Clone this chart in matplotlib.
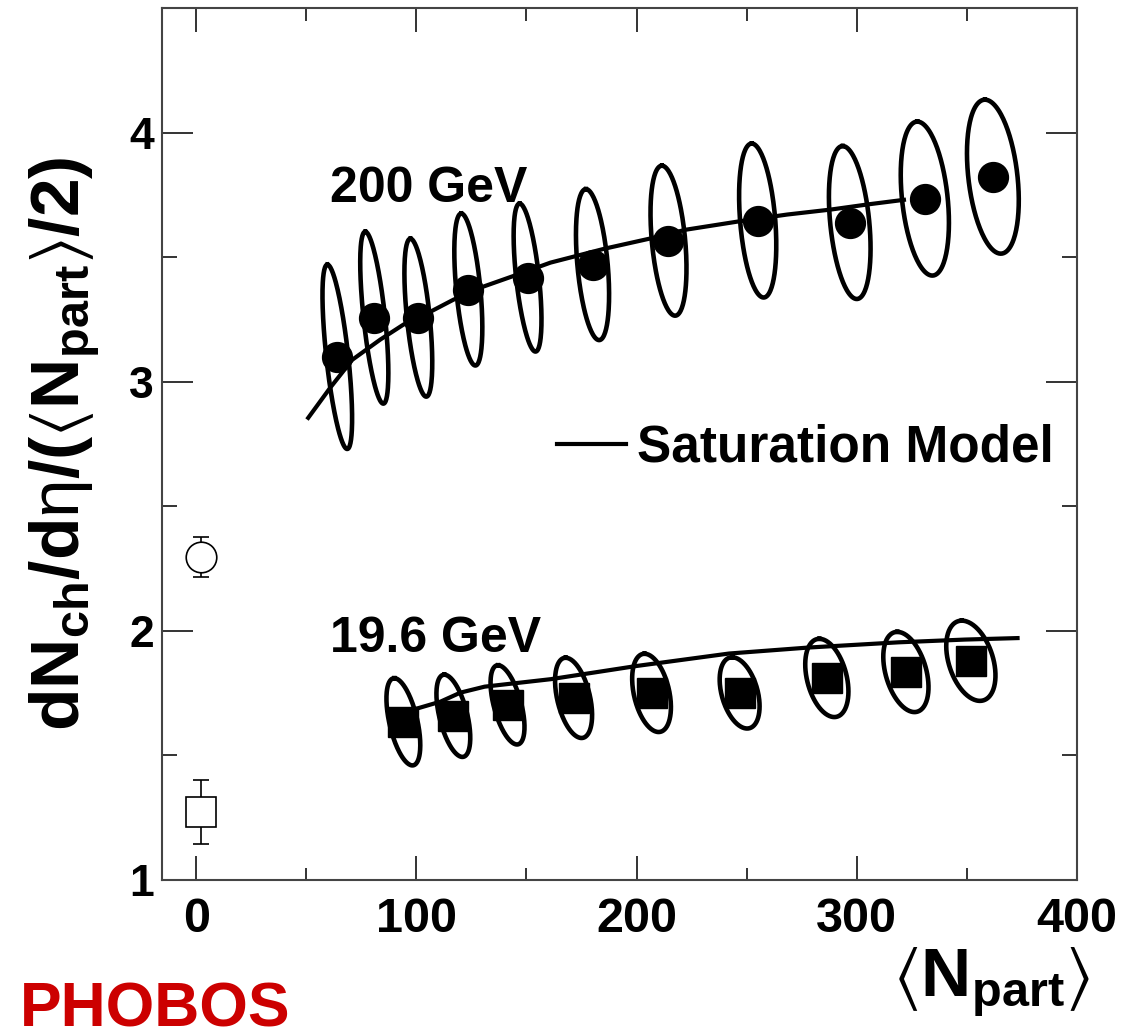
import numpy as np
import matplotlib
matplotlib.use("Agg")
import matplotlib.pyplot as plt
from matplotlib.ticker import MultipleLocator

plt.rcParams['font.family'] = ['Liberation Sans', 'DejaVu Sans']
plt.rcParams['mathtext.fontset'] = 'custom'
plt.rcParams['mathtext.rm'] = 'Liberation Sans'
plt.rcParams['mathtext.bf'] = 'Liberation Sans:bold'
plt.rcParams['mathtext.it'] = 'Liberation Sans:italic'
plt.rcParams['mathtext.fallback'] = 'stix'

# 200 GeV Au+Au
npart_200 = [64.1, 80.9, 100.9, 123.6, 150.5, 180.0, 214.5, 255.0, 296.8, 330.9, 361.8]
ratio_200 = [3.10, 3.257, 3.257, 3.37, 3.418, 3.47, 3.566, 3.647, 3.639, 3.735, 3.823]
# correlated systematic error ellipses: upper tip offset (dx, dy) and half width in Npart
ell200_dx = [-4.5, -4.1, -3.6, -3.2, -3.6, -3.0, -3.0, -2.7, -3.2, -3.4, -3.6]
ell200_dy = [0.37, 0.345, 0.317, 0.305, 0.297, 0.303, 0.301, 0.309, 0.307, 0.309, 0.309]
ell200_w = [5.0, 4.9, 5.2, 5.5, 5.2, 6.9, 7.6, 8.0, 8.9, 10.4, 11.2]

# 19.6 GeV Au+Au
npart_19 = [94.1, 116.8, 141.4, 171.4, 206.8, 246.8, 286.4, 322.3, 351.8]
ratio_19 = [1.635, 1.659, 1.703, 1.731, 1.751, 1.751, 1.811, 1.835, 1.880]
ell19_dx = [-4.1, -4.1, -4.3, -3.6, -3.2, -3.4, -3.4, -3.9, -4.1]
ell19_dy = [0.175, 0.165, 0.159, 0.161, 0.157, 0.143, 0.157, 0.161, 0.161]
ell19_w = [6.5, 6.5, 6.4, 7.6, 8.2, 8.4, 9.2, 9.5, 10.4]

# saturation model
sat200_x = [50.9, 60.9, 70.9, 83.6, 94.1, 106.4, 116.8, 130.5, 145.9, 160.9,
            185.5, 206.8, 222.3, 246.8, 268.4, 288.2, 305.3, 321.4]
sat200_y = [2.855, 2.976, 3.088, 3.169, 3.229, 3.281, 3.329, 3.382, 3.430, 3.478,
            3.534, 3.576, 3.610, 3.644, 3.671, 3.691, 3.712, 3.730]
sat19_x = [95, 101, 111, 120, 131, 140, 161, 200, 242, 278, 319, 349, 373]
sat19_y = [1.675, 1.690, 1.716, 1.752, 1.776, 1.785, 1.806, 1.859, 1.909,
           1.933, 1.954, 1.965, 1.971]

# p+p reference points
pp_x = [2, 2]
pp_y = [2.297, 1.273]
pp_err = [0.08, 0.13]
pp_marker = ['o', 's']


def ellipse(cx, cy, dx, dy, w, n=200):
    t = np.linspace(0, 2 * np.pi, n)
    return cx + dx * np.cos(t) + w * np.sin(t), cy + dy * np.cos(t)


fig = plt.figure(figsize=(11.21, 10.32), dpi=100)
ax = fig.add_axes([162 / 1121, 1 - 880 / 1032, 915 / 1121, 872 / 1032])

lw_ell = 3.3
for cx, cy, dx, dy, w in zip(npart_200, ratio_200, ell200_dx, ell200_dy, ell200_w):
    ex, ey = ellipse(cx, cy, dx, dy, w)
    ax.plot(ex, ey, color='black', lw=lw_ell, zorder=3)
for cx, cy, dx, dy, w in zip(npart_19, ratio_19, ell19_dx, ell19_dy, ell19_w):
    ex, ey = ellipse(cx, cy, dx, dy, w)
    ax.plot(ex, ey, color='black', lw=lw_ell, zorder=3)

ax.plot(sat200_x, sat200_y, color='black', lw=3, zorder=2, label='Saturation Model')
ax.plot(sat19_x, sat19_y, color='black', lw=3, zorder=2)

ax.plot(npart_200, ratio_200, 'o', color='black', ms=21.5, zorder=4)
ax.plot(npart_19, ratio_19, 's', color='black', ms=22, zorder=4)

for x, y, e, m in zip(pp_x, pp_y, pp_err, pp_marker):
    ax.errorbar(x, y, yerr=e, fmt=m, ms=22, mfc='white', mec='black', mew=1.2,
                ecolor='black', elinewidth=1.2, capsize=6, capthick=1.2, zorder=4)

ax.text(60.9, 3.723, '200 GeV', fontsize=36, fontweight='bold')
ax.text(60.9, 1.916, '19.6 GeV', fontsize=36, fontweight='bold')

leg = ax.legend(loc='center left', bbox_to_anchor=(0.4317, 0.495), frameon=False,
                prop={'size': 37, 'weight': 'bold'}, handlelength=1.35,
                handletextpad=0.2, borderpad=0, borderaxespad=0)
for line in leg.get_lines():
    line.set_linewidth(3)

ax.set_xlim(-15.5, 400)
ax.set_ylim(1, 4.5)
ax.xaxis.set_major_locator(MultipleLocator(100))
ax.xaxis.set_minor_locator(MultipleLocator(50))
ax.yaxis.set_major_locator(MultipleLocator(1))
ax.yaxis.set_minor_locator(MultipleLocator(0.5))

ax.tick_params(which='both', direction='in', top=True, right=True, color='#333333', width=1.4)
ax.tick_params(axis='x', which='major', length=17, pad=12, labelsize=35)
ax.tick_params(axis='x', which='minor', length=9)
ax.tick_params(axis='y', which='major', length=22, pad=6, labelsize=32)
ax.tick_params(axis='y', which='minor', length=11)
for lbl in ax.get_xticklabels() + ax.get_yticklabels():
    lbl.set_fontweight('bold')
for s in ax.spines.values():
    s.set_color('#444444')
    s.set_linewidth(1.5)

ax.set_ylabel(r'$\mathbf{dN_{ch}/d}\mathrm{\eta}\mathbf{/(}\langle\mathbf{N_{part}}\rangle\mathbf{/2)}$',
              fontsize=50)
ax.yaxis.set_label_coords(-0.066, 0.5)
ax.set_xlabel(r'$\langle\mathbf{N_{part}}\rangle$', fontsize=50, ha='right')
ax.xaxis.set_label_coords(1.0142, -0.074)

fig.text(20 / 1121, 0.005, 'PHOBOS', color='#cc0000', fontsize=45,
         fontweight='bold', va='baseline')

fig.savefig('out.png', dpi=100)
